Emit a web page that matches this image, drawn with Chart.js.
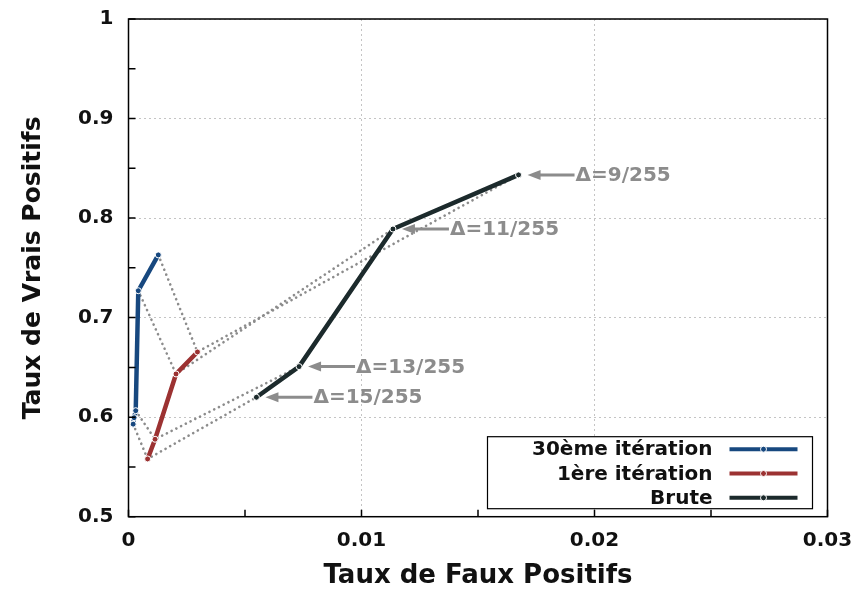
<!DOCTYPE html>
<html>
<head>
<meta charset="utf-8">
<script src="https://cdn.jsdelivr.net/npm/chart.js@4.4.1/dist/chart.umd.min.js"></script>
<style>
  html, body { margin: 0; padding: 0; background: #fff; }
</style>
</head>
<body>
<canvas id="roc" width="857" height="589"></canvas>
<script>
// -----------------------------
// Data
// -----------------------------
const fprIter30 = [0.0002, 0.00024, 0.00031, 0.00042, 0.00128];
const tprIter30 = [0.593, 0.5995, 0.6065, 0.727, 0.763];

const fprIter1 = [0.00082, 0.00114, 0.00204, 0.00296];
const tprIter1 = [0.558, 0.5778, 0.6434, 0.6655];

const fprBrute = [0.00549, 0.00732, 0.01135, 0.01674];
const tprBrute = [0.620, 0.6508, 0.789, 0.8434];

// one label per brute point (same order)
const deltaLabels = ['Δ=15/255', 'Δ=13/255', 'Δ=11/255', 'Δ=9/255'];
// which iter30 / iter1 point shares the same Δ as each brute point
const iso30 = [0, 2, 3, 4];
const iso1 = [0, 1, 2, 3];

const seriesNames = ['30ème itération', '1ère itération', 'Brute'];
const seriesColors = ['#17487f', '#9c3232', '#1c2a2c'];

const xTicks = [0, 0.01, 0.02, 0.03];
const yTicks = [0.5, 0.6, 0.7, 0.8, 0.9, 1];
const xTickMarks = [0, 0.005, 0.01, 0.015, 0.02, 0.025, 0.03];
const yTickMarks = [0.5, 0.55, 0.6, 0.65, 0.7, 0.75, 0.8, 0.85, 0.9, 0.95, 1];

const FONT = "'DejaVu Sans', sans-serif";
const GRAY = '#8c8c8c';

const pts = (xs, ys) => xs.map((x, i) => ({x: x, y: ys[i]}));

// -----------------------------
// Datasets
// -----------------------------
const mainSets = [
  [fprIter30, tprIter30],
  [fprIter1, tprIter1],
  [fprBrute, tprBrute]
].map(([xs, ys], i) => ({
  label: seriesNames[i],
  data: pts(xs, ys),
  borderColor: seriesColors[i],
  backgroundColor: seriesColors[i],
  borderWidth: 4.5,
  pointRadius: 3,
  pointBorderColor: '#fff',
  pointBorderWidth: 1,
  pointBackgroundColor: seriesColors[i],
  tension: 0
}));

// dotted iso-Δ connectors: iter30 -> iter1 -> brute
const isoSets = deltaLabels.map((lab, k) => ({
  label: 'iso ' + lab,
  data: [
    {x: fprIter30[iso30[k]], y: tprIter30[iso30[k]]},
    {x: fprIter1[iso1[k]], y: tprIter1[iso1[k]]},
    {x: fprBrute[k], y: tprBrute[k]}
  ],
  borderColor: GRAY,
  borderWidth: 2.6,
  borderDash: [0.1, 5.2],
  borderCapStyle: 'round',
  pointRadius: 0,
  tension: 0
}));

// -----------------------------
// Plugins
// -----------------------------
const frameAndTicks = {
  id: 'frameAndTicks',
  afterDraw(chart) {
    const {ctx, chartArea: a, scales: {x, y}} = chart;
    ctx.save();
    ctx.strokeStyle = '#000';
    ctx.lineWidth = 1.5;
    ctx.beginPath();
    xTickMarks.forEach(v => {
      const px = x.getPixelForValue(v);
      ctx.moveTo(px, a.bottom); ctx.lineTo(px, a.bottom - 7);
    });
    yTickMarks.forEach(v => {
      const py = y.getPixelForValue(v);
      ctx.moveTo(a.left, py); ctx.lineTo(a.left + 7, py);
    });
    ctx.stroke();
    ctx.strokeRect(a.left, a.top, a.right - a.left, a.bottom - a.top);
    ctx.restore();
  }
};

const deltaNotes = {
  id: 'deltaNotes',
  afterDatasetsDraw(chart) {
    const {ctx, scales: {x, y}} = chart;
    ctx.save();
    ctx.strokeStyle = GRAY;
    ctx.fillStyle = GRAY;
    ctx.lineWidth = 3;
    ctx.font = 'bold 20px ' + FONT;
    ctx.textBaseline = 'middle';
    deltaLabels.forEach((lab, i) => {
      const px = x.getPixelForValue(fprBrute[i]);
      const py = y.getPixelForValue(tprBrute[i]);
      const tip = px + 9, tail = px + 56;
      ctx.beginPath();
      ctx.moveTo(tail, py); ctx.lineTo(tip + 10, py);
      ctx.stroke();
      ctx.beginPath();
      ctx.moveTo(tip, py); ctx.lineTo(tip + 13, py - 5); ctx.lineTo(tip + 13, py + 5);
      ctx.closePath();
      ctx.fill();
      ctx.fillText(lab, tail + 1, py + 1);
    });
    ctx.restore();
  }
};

const boxLegend = {
  id: 'boxLegend',
  afterDatasetsDraw(chart) {
    const {ctx, chartArea: a} = chart;
    const right = a.right - 15, bottom = a.bottom - 8;
    const w = 325, h = 72;
    const left = right - w, top = bottom - h;
    ctx.save();
    ctx.fillStyle = '#fff';
    ctx.fillRect(left, top, w, h);
    ctx.strokeStyle = '#000';
    ctx.lineWidth = 1.2;
    ctx.strokeRect(left, top, w, h);
    ctx.font = 'bold 20px ' + FONT;
    ctx.textAlign = 'right';
    ctx.textBaseline = 'middle';
    seriesNames.forEach((name, i) => {
      const cy = top + 12.5 + i * 24.3;
      ctx.fillStyle = '#111';
      ctx.fillText(name, left + 225, cy + 1);
      ctx.strokeStyle = seriesColors[i];
      ctx.lineWidth = 4;
      ctx.beginPath();
      ctx.moveTo(left + 242, cy); ctx.lineTo(left + 310, cy);
      ctx.stroke();
      ctx.beginPath();
      ctx.arc(left + 276, cy, 3, 0, Math.PI * 2);
      ctx.fillStyle = seriesColors[i];
      ctx.fill();
      ctx.strokeStyle = '#fff';
      ctx.lineWidth = 1;
      ctx.stroke();
    });
    ctx.restore();
  }
};

// -----------------------------
// Chart
// -----------------------------
const gridOpts = {color: '#c4c4c4', lineWidth: 1, drawTicks: false};
const borderOpts = {display: false, dash: [2, 3]};

new Chart(document.getElementById('roc').getContext('2d'), {
  type: 'line',
  data: {datasets: [...mainSets, ...isoSets]},
  options: {
    responsive: false,
    animation: false,
    events: [],
    layout: {autoPadding: false, padding: {left: 0, right: 29.5, top: 19, bottom: 0}},
    plugins: {legend: {display: false}, tooltip: {enabled: false}},
    scales: {
      x: {
        type: 'linear',
        min: 0, max: 0.03,
        afterBuildTicks: s => { s.ticks = xTicks.map(v => ({value: v})); },
        afterFit: s => { s.height = 72.3; s.paddingLeft = 0; s.paddingRight = 0; },
        grid: gridOpts,
        border: borderOpts,
        ticks: {
          padding: 12,
          color: '#111',
          font: {family: FONT, size: 20, weight: 'bold'},
          callback: v => String(v)
        },
        title: {
          display: true,
          text: 'Taux de Faux Positifs',
          color: '#111',
          font: {family: FONT, size: 26, weight: 'bold', lineHeight: 1},
          padding: {top: 0, bottom: 0}
        }
      },
      y: {
        type: 'linear',
        min: 0.5, max: 1,
        afterBuildTicks: s => { s.ticks = yTicks.map(v => ({value: v})); },
        afterFit: s => { s.width = 128.5; s.paddingTop = 0; s.paddingBottom = 0; },
        grid: gridOpts,
        border: borderOpts,
        ticks: {
          padding: 15,
          color: '#111',
          font: {family: FONT, size: 20, weight: 'bold'},
          callback: v => String(v)
        },
        title: {
          display: true,
          text: 'Taux de Vrais Positifs',
          color: '#111',
          font: {family: FONT, size: 25, weight: 'bold', lineHeight: 1},
          padding: {top: 21, bottom: 0}
        }
      }
    }
  },
  plugins: [deltaNotes, boxLegend, frameAndTicks]
});
</script>
</body>
</html>
